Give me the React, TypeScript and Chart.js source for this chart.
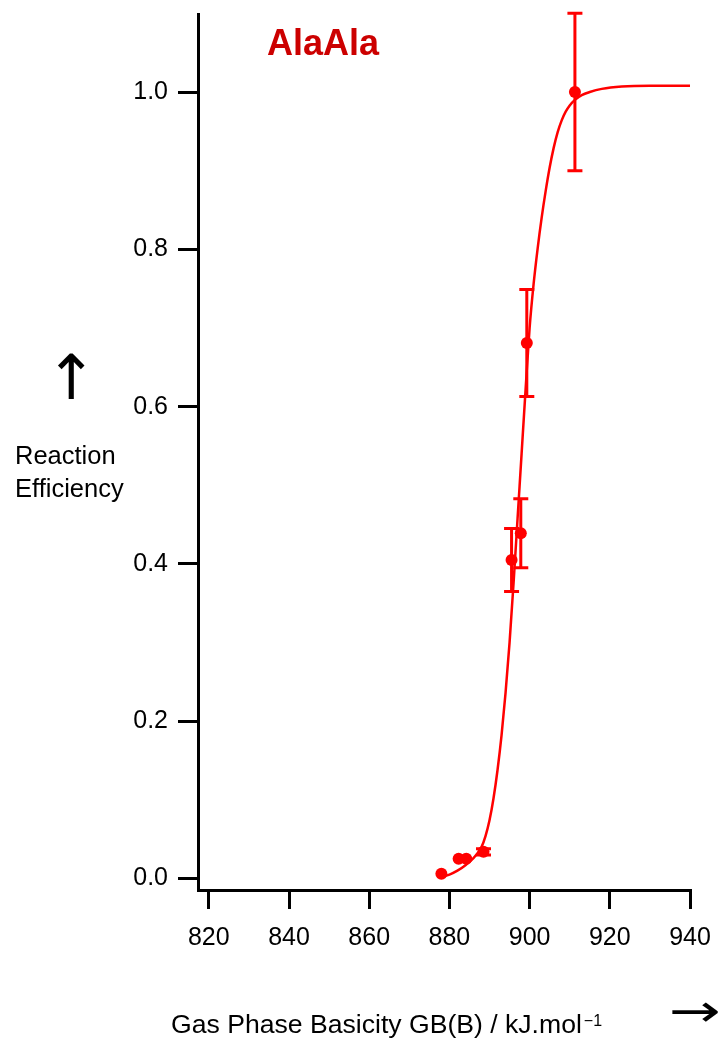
import React, { useEffect, useRef } from "react";
import { Chart, registerables } from "chart.js";

Chart.register(...registerables);

// Measured points (x: GB in kJ/mol, y: reaction efficiency) and their error bars
const pointX = [878.0, 882.3, 884.2, 888.5, 895.5, 897.8, 899.3, 911.3];
const pointY = [0.006, 0.025, 0.025, 0.034, 0.405, 0.439, 0.681, 1.0];
const pointErr = [0, 0, 0, 0.004, 0.04, 0.044, 0.068, 0.1];

// Fitted curve
const fitX = [878, 880, 882, 884, 886, 887, 888, 889, 890, 891, 892, 893, 894, 895, 896, 897, 898, 899, 900, 901, 902, 903, 904, 905, 906, 907, 908, 909, 910, 911.3, 913, 915, 918, 923, 930, 940];
const fitY = [0.002, 0.005, 0.01, 0.017, 0.026, 0.032, 0.04, 0.054, 0.074, 0.102, 0.138, 0.182, 0.236, 0.3, 0.376, 0.458, 0.54, 0.622, 0.7, 0.756, 0.801, 0.84, 0.874, 0.904, 0.929, 0.949, 0.964, 0.975, 0.983, 0.99, 0.996, 1.0, 1.004, 1.007, 1.008, 1.008];

const xTicks = [820, 840, 860, 880, 900, 920, 940];
const yTicks = [0, 0.2, 0.4, 0.6, 0.8, 1.0];

const titleText = "AlaAla";
const xLabelMain = "Gas Phase Basicity GB(B) / kJ.mol";
const xLabelSup = "\u22121";
const yLabelLines = ["Reaction", "Efficiency"];
const upArrow = "\u2191";
const rightArrow = "\u2192";

const FONT = "'Liberation Sans', Arial, Helvetica, sans-serif";
const RED = "#ff0000";

const errorBarPlugin = {
  id: "errorBars",
  beforeDatasetsDraw(chart: any) {
    const { ctx, scales } = chart;
    const xs = scales.x;
    const ys = scales.y;
    ctx.save();
    ctx.strokeStyle = RED;
    ctx.lineWidth = 3;
    const half = 7.5;
    for (let i = 0; i < pointX.length; i++) {
      const e = pointErr[i];
      if (!e) continue;
      const px = xs.getPixelForValue(pointX[i]);
      const top = ys.getPixelForValue(pointY[i] + e);
      const bot = ys.getPixelForValue(pointY[i] - e);
      ctx.beginPath();
      ctx.moveTo(px, top);
      ctx.lineTo(px, bot);
      ctx.moveTo(px - half, top);
      ctx.lineTo(px + half, top);
      ctx.moveTo(px - half, bot);
      ctx.lineTo(px + half, bot);
      ctx.stroke();
    }
    ctx.restore();
  },
};

const labelsPlugin = {
  id: "labels",
  afterDraw(chart: any) {
    const { ctx } = chart;
    ctx.save();
    ctx.textAlign = "left";
    ctx.textBaseline = "alphabetic";
    // Title
    ctx.fillStyle = "#cc0000";
    ctx.font = `bold 36px ${FONT}`;
    ctx.fillText(titleText, 267, 55);
    // Y label
    ctx.fillStyle = "#000";
    ctx.font = `25.5px ${FONT}`;
    ctx.fillText(yLabelLines[0], 15, 464);
    ctx.fillText(yLabelLines[1], 15, 496.5);
    // X label
    ctx.font = `26.6px ${FONT}`;
    ctx.fillText(xLabelMain, 171, 1033);
    const w = ctx.measureText(xLabelMain).width;
    ctx.font = `16px ${FONT}`;
    ctx.fillText(xLabelSup, 171 + w + 2, 1026);
    // Arrows
    ctx.font = `62px 'DejaVu Sans', sans-serif`;
    ctx.textAlign = "center";
    ctx.textBaseline = "middle";
    ctx.fillText(upArrow, 71.5, 383);
    ctx.save();
    ctx.translate(695, 1014);
    ctx.scale(1, 0.72);
    ctx.fillText(rightArrow, 0, 0);
    ctx.restore();
    ctx.restore();
  },
};

const noScalePadding = (s: any) => {
  s.paddingTop = 0;
  s.paddingBottom = 0;
  s.paddingLeft = 0;
  s.paddingRight = 0;
};

export default function App() {
  const ref = useRef<HTMLCanvasElement | null>(null);

  useEffect(() => {
    if (!ref.current) return;
    const chart = new Chart(ref.current, {
      type: "scatter",
      data: {
        datasets: [
          {
            type: "line",
            label: "fit",
            data: fitX.map((x, i) => ({ x, y: fitY[i] })),
            borderColor: RED,
            borderWidth: 2.5,
            pointRadius: 0,
            fill: false,
            cubicInterpolationMode: "monotone",
          } as any,
          {
            type: "scatter",
            label: "data",
            data: pointX.map((x, i) => ({ x, y: pointY[i] })),
            backgroundColor: RED,
            borderColor: RED,
            borderWidth: 0,
            pointRadius: 6,
          },
        ],
      },
      options: {
        responsive: false,
        animation: false,
        events: [],
        layout: { autoPadding: false, padding: { top: 14, right: 31, left: 0, bottom: 0 } },
        plugins: { legend: { display: false }, title: { display: false }, tooltip: { enabled: false } },
        scales: {
          x: {
            type: "linear",
            min: 817.3,
            max: 940,
            afterBuildTicks: (s: any) => {
              s.ticks = xTicks.map((v) => ({ value: v }));
            },
            afterFit: (s: any) => {
              s.height = 1043 - 890;
              noScalePadding(s);
            },
            ticks: {
              font: { family: FONT, size: 25 },
              color: "#000",
              padding: 14,
              maxRotation: 0,
              autoSkip: false,
              callback: (v: any) => String(v),
            },
            grid: {
              display: true,
              drawOnChartArea: false,
              drawTicks: true,
              tickLength: 19,
              lineWidth: 3,
              color: "#000",
            },
            border: { display: true, width: 3, color: "#000" },
          },
          y: {
            type: "linear",
            min: -0.0146,
            max: 1.0992,
            afterBuildTicks: (s: any) => {
              s.ticks = yTicks.map((v) => ({ value: v }));
            },
            afterFit: (s: any) => {
              s.width = 198;
              noScalePadding(s);
            },
            ticks: {
              font: { family: FONT, size: 25 },
              color: "#000",
              padding: 10,
              autoSkip: false,
              callback: (v: any) => Number(v).toFixed(1),
            },
            grid: {
              display: true,
              drawOnChartArea: false,
              drawTicks: true,
              tickLength: 20,
              lineWidth: 3,
              color: "#000",
            },
            border: { display: true, width: 3, color: "#000" },
          },
        },
      },
      plugins: [errorBarPlugin, labelsPlugin],
    });
    return () => chart.destroy();
  }, []);

  return (
    <div style={{ position: "absolute", left: 0, top: 0, width: 721, height: 1043, background: "#fff" }}>
      <canvas ref={ref} width={721} height={1043} style={{ display: "block", width: 721, height: 1043 }} />
    </div>
  );
}
